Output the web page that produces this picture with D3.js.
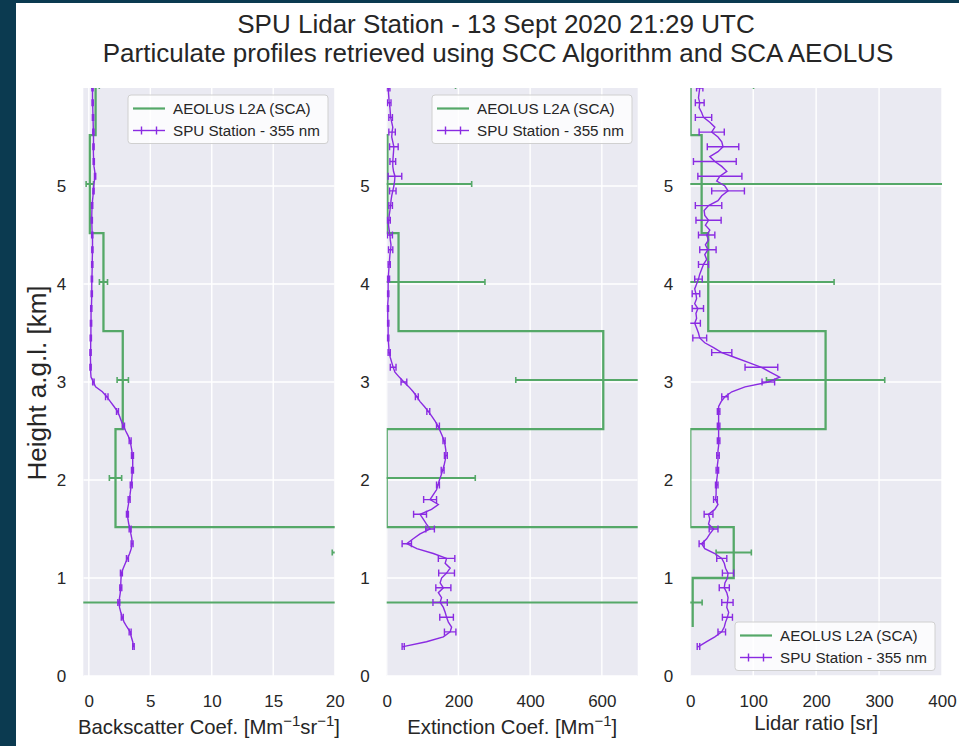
<!DOCTYPE html>
<html><head><meta charset="utf-8">
<script src="https://cdn.jsdelivr.net/npm/d3@7/dist/d3.min.js"></script>
<style>
body{margin:0;background:#fff;}
svg{display:block;font-family:"Liberation Sans",Arial,sans-serif;}
</style>
</head><body>
<svg id="c" width="959" height="746"></svg>
<script>
// ---------- DATA ----------
const titleLines = ["SPU Lidar Station - 13 Sept 2020 21:29 UTC",
  "Particulate profiles retrieved using SCC Algorithm and SCA AEOLUS"];
const seriesNames = ["AEOLUS L2A (SCA)", "SPU Station - 355 nm"];
const heightTicks = [0, 1, 2, 3, 4, 5];
const bscTicks = [0, 5, 10, 15, 20];
const extTicks = [0, 200, 400, 600];
const lrTicks = [0, 100, 200, 300, 400];

// SPU station profiles (km a.g.l.)
const altitudes = [0.30,0.35,0.40,0.45,0.50,0.55,0.60,0.65,0.70,0.75,0.80,0.85,0.90,0.95,1.00,1.05,1.10,1.15,1.20,1.25,1.30,1.35,1.40,1.45,1.50,1.55,1.60,1.65,1.70,1.75,1.80,1.85,1.90,1.95,2.00,2.05,2.10,2.15,2.20,2.25,2.30,2.35,2.40,2.45,2.50,2.55,2.60,2.65,2.70,2.75,2.80,2.85,2.90,2.95,3.00,3.05,3.10,3.15,3.20,3.25,3.30,3.35,3.40,3.45,3.50,3.55,3.60,3.65,3.70,3.75,3.80,3.85,3.90,3.95,4.00,4.05,4.10,4.15,4.20,4.25,4.30,4.35,4.40,4.45,4.50,4.55,4.60,4.65,4.70,4.75,4.80,4.85,4.90,4.95,5.00,5.05,5.10,5.15,5.20,5.25,5.30,5.35,5.40,5.45,5.50,5.55,5.60,5.65,5.70,5.75,5.80,5.85,5.90,5.95,6.00];
const spuBackscatter = [3.63,3.57,3.45,3.36,3.10,2.87,2.72,2.60,2.50,2.44,
  2.50,2.56,2.60,2.60,2.62,2.65,2.80,2.97,3.14,3.32,
  3.45,3.52,3.50,3.42,3.36,3.25,3.18,3.14,3.15,3.22,
  3.28,3.35,3.40,3.45,3.49,3.52,3.55,3.57,3.57,3.55,
  3.50,3.43,3.36,3.20,3.00,2.82,2.65,2.50,2.33,2.05,
  1.75,1.46,1.10,0.55,0.37,0.18,0.15,0.14,0.14,0.13,
  0.14,0.15,0.15,0.16,0.17,0.17,0.18,0.18,0.18,0.20,
  0.22,0.23,0.24,0.24,0.24,0.25,0.26,0.27,0.28,0.28,
  0.29,0.29,0.30,0.30,0.28,0.26,0.25,0.24,0.24,0.25,
  0.27,0.30,0.34,0.38,0.40,0.45,0.51,0.48,0.42,0.40,
  0.38,0.37,0.38,0.38,0.38,0.37,0.36,0.35,0.34,0.33,
  0.32,0.31,0.30,0.30,0.30];
const spuExtinction = [46,111,158,177,181,172,167,163,158,149,
  153,144,158,149,153,167,177,163,167,130,
  84,56,74,93,121,111,102,93,125,144,
  121,130,139,143,147,152,156,160,163,165,
  165,163,160,155,149,143,135,126,116,105,
  93,84,74,62,48,35,23,18,14,10,
  7,6,5,4,4,4,4,3,3,3,
  3,4,4,4,4,5,5,6,7,8,
  9,11,12,10,9,7,5,6,7,9,
  11,12,14,17,20,22,23,19,17,17,
  18,19,20,17,14,15,17,14,11,10,
  9,7,6,5,5];
const spuLidarRatio = [13,26,39,50,54,56,59,61,58,59,
  60,58,54,55,59,60,56,54,50,39,
  23,18,26,31,37,29,31,29,39,44,
  40,41,41,42,42,43,43,43,44,44,
  44,45,45,45,45,45,45,45,45,45,
  49,55,66,87,124,142,127,113,92,71,
  50,37,23,15,13,10,7,10,9,12,
  7,10,9,7,10,13,15,18,21,26,
  23,28,24,29,26,31,24,29,23,22,
  29,44,50,60,55,42,47,58,50,39,
  31,44,52,50,44,34,39,31,21,18,
  14,15,13,14,15];
// error bars drawn on every 3rd profile point (0.30, 0.45, ... 6.00 km)
const errorEvery = 3;
const spuBackscatterErr = [0.06,0.08,0.08,0.08,0.08,0.08,0.08,0.08,0.08,0.08,
  0.08,0.08,0.08,0.08,0.08,0.08,0.08,0.10,0.06,0.05,
  0.05,0.05,0.05,0.05,0.05,0.05,0.05,0.05,0.05,0.05,
  0.05,0.05,0.05,0.05,0.05,0.05,0.05,0.05,0.05];
const spuExtinctionErr = [3,16,19,20,21,22,23,13,12,18,
  18,4,4,4,3,4,4,4,8,8,
  3,2,2,2,2,3,3,6,7,4,
  5,9,19,8,12,9,5,5,4];
const spuLidarRatioErr = [2,6,8,9,8,9,8,4,7,7,
  3,2,2,2,2,2,2,5,10,26,
  16,11,9,9,6,6,8,13,13,20,
  21,26,35,34,25,20,13,7,5];

// AEOLUS L2A (SCA) bins
const aeolusBinEdges = [0.50, 1.00, 1.52, 2.52, 3.52, 4.52, 5.52, 6.52];
const aeolusBinMid = [0.75, 1.26, 2.02, 3.02, 4.02, 5.02, 6.02];
const aeolusBackscatter = [250, 24, 2.17, 2.76, 1.19, 0.08, 0.55];
const aeolusBackscatterErr = [300, 4.2, 0.5, 0.46, 0.33, 0.3, 0.3];
const aeolusExtinction = [950, 1650, 0, 604, 33, 2, -8];
const aeolusExtinctionErr = [1200, 500, 247, 244, 241, 235, 200];
const aeolusLidarRatio = [3.8, 69, 0, 215, 28.5, 18, 0.5];
const aeolusLidarRatioErr = [15, 28, null, 94, 200, 600, 100];

// ---------- DRAW ----------
const W = 959, H = 746;
const svg = d3.select('#c');
svg.append('rect').attr('width', W).attr('height', H).attr('fill', '#ffffff');
svg.append('rect').attr('x', 0).attr('y', 0).attr('width', 16).attr('height', H).attr('fill', '#0b3a50');
svg.append('rect').attr('x', 0).attr('y', 0).attr('width', W).attr('height', 3).attr('fill', '#0b3a50');

const GREEN = '#55a868', PURPLE = '#8a2be2', TXT = '#262626', BG = '#eaeaf2';
const plotTop = 88, plotBottom = 676;
const y = d3.scaleLinear().domain([0, 6]).range([plotBottom, plotTop]);

// title
svg.append('text').attr('x', 496).attr('y', 33).attr('text-anchor', 'middle')
  .attr('font-size', 26).attr('fill', TXT).text(titleLines[0]);
svg.append('text').attr('x', 498).attr('y', 61.5).attr('text-anchor', 'middle')
  .attr('font-size', 26).attr('fill', TXT).text(titleLines[1]);

// y label
svg.append('text').attr('transform', 'translate(46,383) rotate(-90)')
  .attr('text-anchor', 'middle').attr('font-size', 26).attr('fill', TXT).text('Height a.g.l. [km]');

const panels = [
  { x0: 83.3, x1: 334.7, domain: [-0.45, 20], ticks: bscTicks,
    label: [['Backscatter Coef. [Mm', false], ['\u22121', true], ['sr', false], ['\u22121', true], [']', false]], labelY: 734,
    spu: spuBackscatter, spuErr: spuBackscatterErr, ae: aeolusBackscatter, aeErr: aeolusBackscatterErr,
    legend: [128, 95] },
  { x0: 386.7, x1: 637.7, domain: [0, 700], ticks: extTicks,
    label: [['Extinction Coef. [Mm', false], ['\u22121', true], [']', false]], labelY: 734,
    spu: spuExtinction, spuErr: spuExtinctionErr, ae: aeolusExtinction, aeErr: aeolusExtinctionErr,
    legend: [432, 95] },
  { x0: 690.3, x1: 942, domain: [0, 400], ticks: lrTicks,
    label: [['Lidar ratio [sr]', false]], labelY: 730,
    spu: spuLidarRatio, spuErr: spuLidarRatioErr, ae: aeolusLidarRatio, aeErr: aeolusLidarRatioErr,
    legend: [735, 622] }
];

panels.forEach((p, pi) => {
  const x = d3.scaleLinear().domain(p.domain).range([p.x0, p.x1]);
  const g = svg.append('g');
  const clipId = 'clip' + pi;
  svg.append('clipPath').attr('id', clipId).append('rect')
    .attr('x', p.x0).attr('y', plotTop).attr('width', p.x1 - p.x0).attr('height', plotBottom - plotTop);
  g.append('rect').attr('x', p.x0).attr('y', plotTop).attr('width', p.x1 - p.x0)
    .attr('height', plotBottom - plotTop).attr('fill', BG);

  // grid
  const grid = g.append('g').attr('clip-path', `url(#${clipId})`);
  grid.selectAll('.gx').data(p.ticks).enter().append('line')
    .attr('x1', d => x(d)).attr('x2', d => x(d)).attr('y1', plotTop).attr('y2', plotBottom)
    .attr('stroke', '#fff').attr('stroke-width', 1.4);
  grid.selectAll('.gy').data(heightTicks).enter().append('line')
    .attr('x1', p.x0).attr('x2', p.x1).attr('y1', d => y(d)).attr('y2', d => y(d))
    .attr('stroke', '#fff').attr('stroke-width', 1.4);

  // axes (labels only)
  const ax = g.append('g').attr('transform', `translate(0,${plotBottom})`)
    .call(d3.axisBottom(x).tickValues(p.ticks).tickSize(0).tickPadding(18.5).tickFormat(d3.format('d')));
  ax.select('.domain').remove();
  ax.selectAll('text').attr('font-size', 17).attr('fill', TXT).attr('font-family', '"Liberation Sans",Arial,sans-serif');
  const ay = g.append('g').attr('transform', `translate(${p.x0},0)`)
    .call(d3.axisLeft(y).tickValues(heightTicks).tickSize(0).tickPadding(17).tickFormat(d3.format('d')));
  ay.select('.domain').remove();
  ay.selectAll('text').attr('font-size', 17).attr('fill', TXT).attr('font-family', '"Liberation Sans",Arial,sans-serif');

  // x label
  const lab = g.append('text').attr('x', (p.x0 + p.x1) / 2).attr('y', p.labelY)
    .attr('text-anchor', 'middle').attr('font-size', 20.3).attr('fill', TXT);
  p.label.forEach(([t, sup]) => {
    const ts = lab.append('tspan').text(t);
    if (sup) ts.attr('font-size', 15).attr('baseline-shift', '8');
  });

  const data = g.append('g').attr('clip-path', `url(#${clipId})`);

  // AEOLUS step profile
  const stepPts = [];
  p.ae.forEach((v, i) => {
    stepPts.push([v, aeolusBinEdges[i]]);
    stepPts.push([v, aeolusBinEdges[i + 1]]);
  });
  data.append('path').datum(stepPts)
    .attr('d', d3.line().x(d => x(d[0])).y(d => y(d[1])))
    .attr('fill', 'none').attr('stroke', GREEN).attr('stroke-width', 2.3);
  // AEOLUS error bars
  p.ae.forEach((v, i) => {
    const e = p.aeErr[i];
    if (e == null) return;
    const yy = y(aeolusBinMid[i]);
    const xa = x(v - e), xb = x(v + e);
    data.append('line').attr('x1', xa).attr('x2', xb).attr('y1', yy).attr('y2', yy)
      .attr('stroke', GREEN).attr('stroke-width', 2);
    [xa, xb].forEach(xc => data.append('line').attr('x1', xc).attr('x2', xc)
      .attr('y1', yy - 3).attr('y2', yy + 3).attr('stroke', GREEN).attr('stroke-width', 1.6));
  });

  // SPU profile
  data.append('path').datum(altitudes.map((a, i) => [p.spu[i], a]))
    .attr('d', d3.line().x(d => x(d[0])).y(d => y(d[1])))
    .attr('fill', 'none').attr('stroke', PURPLE).attr('stroke-width', 1.4);
  p.spuErr.forEach((e, k) => {
    const i = k * errorEvery;
    const v = p.spu[i], yy = y(altitudes[i]);
    const xa = x(v - e), xb = x(v + e);
    data.append('line').attr('x1', xa).attr('x2', xb).attr('y1', yy).attr('y2', yy)
      .attr('stroke', PURPLE).attr('stroke-width', 1.4);
    [xa, xb].forEach(xc => data.append('line').attr('x1', xc).attr('x2', xc)
      .attr('y1', yy - 3.5).attr('y2', yy + 3.5).attr('stroke', PURPLE).attr('stroke-width', 1.4));
  });

  // legend
  const [lx, ly] = p.legend;
  const lg = g.append('g');
  lg.append('rect').attr('x', lx).attr('y', ly).attr('width', 200).attr('height', 48.5)
    .attr('rx', 3).attr('fill', '#ffffff').attr('fill-opacity', 0.8)
    .attr('stroke', '#d0d0d0').attr('stroke-width', 1);
  const r1 = ly + 13.5, r2 = ly + 35.5;
  lg.append('line').attr('x1', lx + 5).attr('x2', lx + 37).attr('y1', r1).attr('y2', r1)
    .attr('stroke', GREEN).attr('stroke-width', 2.2);
  lg.append('line').attr('x1', lx + 5).attr('x2', lx + 37).attr('y1', r2).attr('y2', r2)
    .attr('stroke', PURPLE).attr('stroke-width', 1.4);
  [lx + 13.5, lx + 28.5].forEach(xc => lg.append('line').attr('x1', xc).attr('x2', xc)
    .attr('y1', r2 - 4).attr('y2', r2 + 4).attr('stroke', PURPLE).attr('stroke-width', 1.4));
  lg.append('text').attr('x', lx + 45).attr('y', r1 + 5.3).attr('font-size', 15.2).attr('fill', TXT).text(seriesNames[0]);
  lg.append('text').attr('x', lx + 45).attr('y', r2 + 5.3).attr('font-size', 15.2).attr('fill', TXT).text(seriesNames[1]);
});
</script>
</body></html>
